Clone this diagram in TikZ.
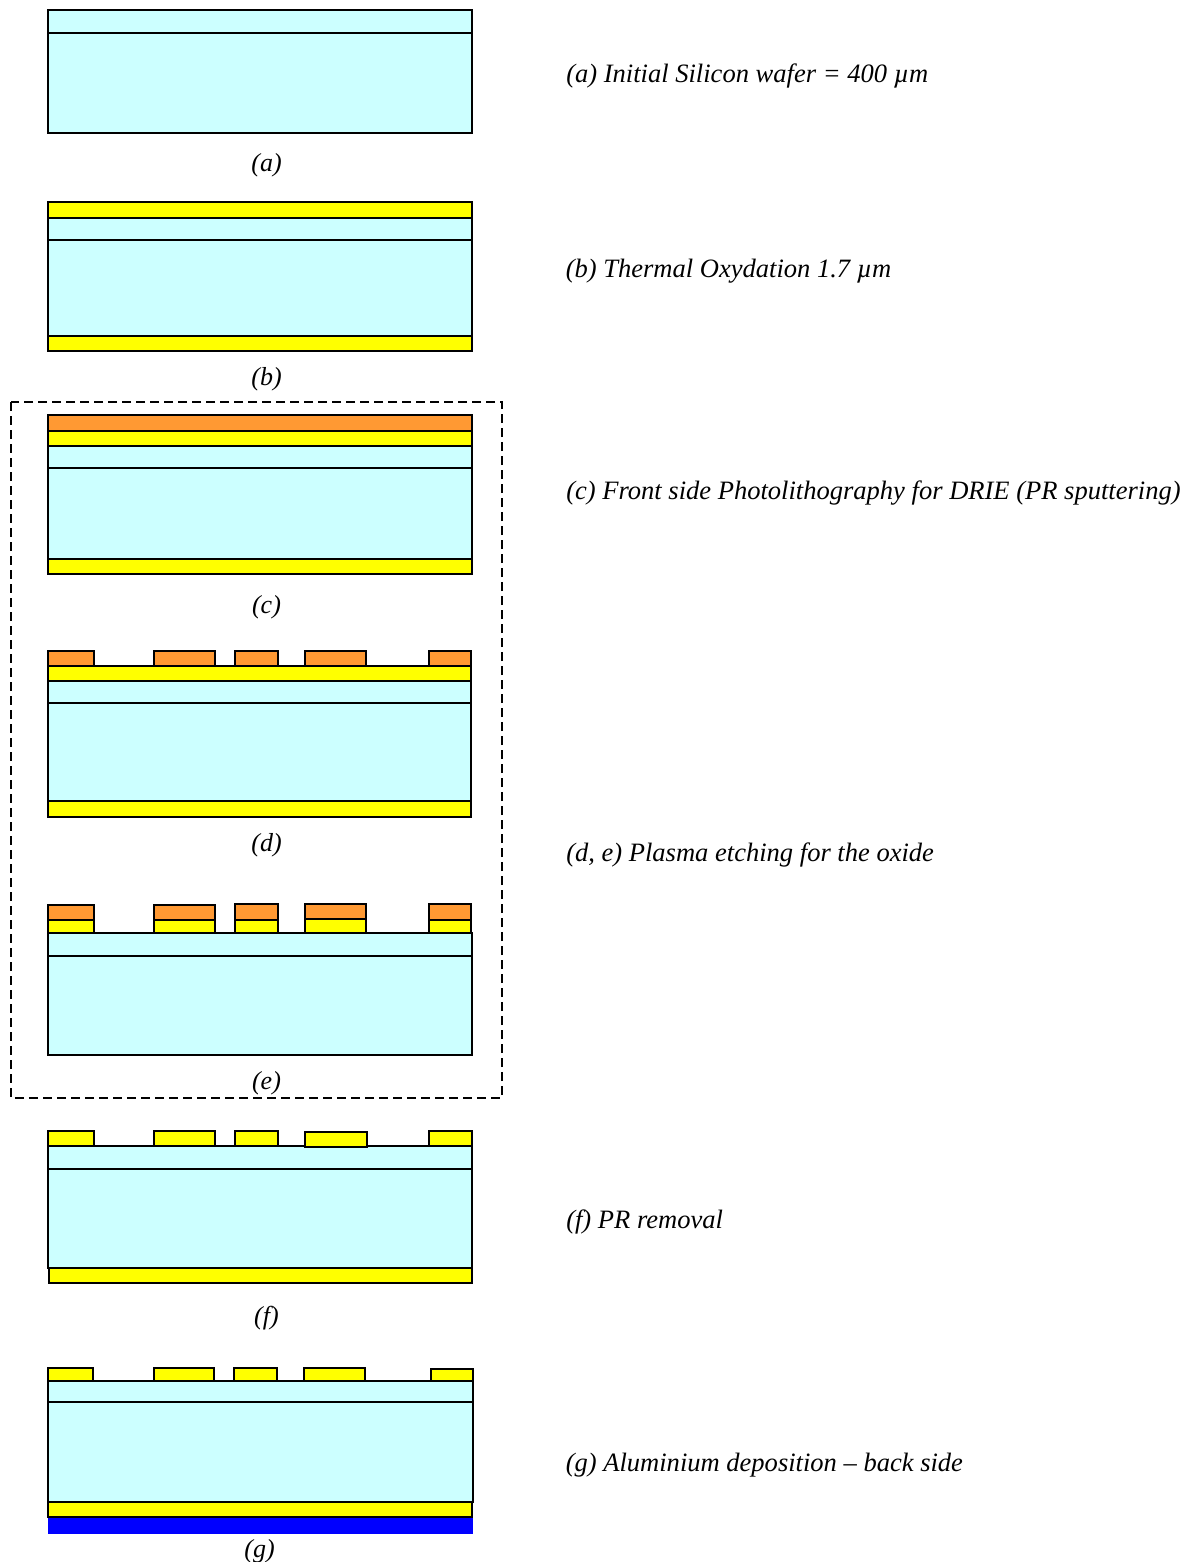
\documentclass[tikz,border=0pt]{standalone}
\usepackage{fontspec}
\setmainfont{Liberation Serif}
\definecolor{si}{RGB}{204,255,255}
\definecolor{ox}{RGB}{255,255,0}
\definecolor{pr}{RGB}{255,153,51}
\definecolor{al}{RGB}{0,0,255}
\tikzset{
  layer/.style={draw=black,line width=1.4pt,line join=miter},
  captxt/.style={font=\fontsize{19.5pt}{22pt}\selectfont\itshape,inner sep=0pt,anchor=base},
  desc/.style={font=\fontsize{19.9pt}{22pt}\selectfont\itshape,inner sep=0pt,anchor=base west},
  frame/.style={draw=black,line width=1.2pt,dash pattern=on 6.5pt off 4pt},
}
\newcommand{\lay}[5]{\path[layer,fill=#5] (#1,#2) rectangle (#3,#4);}
\newcommand{\wafer}[4]{% top, line, bottom, right
  \path[layer,fill=si] (48,#1) rectangle (#4,#3);
  \draw[layer] (48,#2) -- (#4,#2);}
\begin{document}
\begin{tikzpicture}[x=0.75pt,y=-0.75pt]
\useasboundingbox (0,0) rectangle (1192,1562);
% (a)
\wafer{10}{33}{133}{472}
% (b)
\wafer{218}{240}{336}{472}
\lay{48}{202}{472}{218}{ox}
\lay{48}{336}{472}{351}{ox}
% frame
\draw[frame] (11,402) rectangle (502,1098);
% (c)
\wafer{446}{468}{559}{472}
\lay{48}{431}{472}{446}{ox}
\lay{48}{415}{472}{431}{pr}
\lay{48}{559}{472}{574}{ox}
% (d)
\wafer{681}{703}{801}{471}
\lay{48}{666}{471}{681}{ox}
\lay{48}{801}{471}{817}{ox}
\lay{48}{651}{94}{666}{pr}
\lay{154}{651}{215}{666}{pr}
\lay{235}{651}{278}{666}{pr}
\lay{305}{651}{366}{666}{pr}
\lay{429}{651}{471}{666}{pr}
% (e)
\wafer{933}{956}{1055}{472}
\lay{48}{920}{94}{933}{ox}
\lay{154}{920}{215}{933}{ox}
\lay{235}{920}{278}{933}{ox}
\lay{305}{918}{366}{933}{ox}
\lay{429}{920}{471}{933}{ox}
\lay{48}{905}{94}{920}{pr}
\lay{154}{905}{215}{920}{pr}
\lay{235}{904}{278}{920}{pr}
\lay{305}{904}{366}{919}{pr}
\lay{429}{904}{471}{920}{pr}
% (f)
\wafer{1146}{1169}{1268}{472}
\lay{48}{1131}{94}{1146}{ox}
\lay{154}{1131}{215}{1146}{ox}
\lay{235}{1131}{278}{1146}{ox}
\lay{305}{1132}{367}{1147}{ox}
\lay{429}{1131}{472}{1146}{ox}
\lay{49}{1268}{472}{1283}{ox}
% (g)
\fill[al] (48,1517) rectangle (473,1534);
\wafer{1381}{1402}{1502}{473}
\lay{48}{1368}{93}{1381}{ox}
\lay{154}{1368}{214}{1381}{ox}
\lay{234}{1368}{277}{1381}{ox}
\lay{304}{1368}{365}{1381}{ox}
\lay{431}{1369}{473}{1381}{ox}
\lay{48}{1502}{472}{1517}{ox}
% captions
\node[captxt] (capa) at (266.5,172) {(a)};
\node[captxt] (capb) at (266.5,385) {(b)};
\node[captxt] (capc) at (266.5,613) {(c)};
\node[captxt] (capd) at (266.5,851) {(d)};
\node[captxt] (cape) at (266.5,1089) {(e)};
\node[captxt] (capf) at (266.5,1324) {(f)};
\node[captxt] (capg) at (259.5,1557) {(g)};
% descriptions
\node[desc] (da) at (566,83) {(a) Initial Silicon wafer = 400 µm};
\node[desc] (db) at (565.5,277) {(b) Thermal Oxydation 1.7 µm};
\node[desc] (dc) at (566,499) {(c) Front side Photolithography for DRIE (PR sputtering)};
\node[desc] (dd) at (566,861) {(d, e) Plasma etching for the oxide};
\node[desc] (df) at (566,1228) {(f) PR removal};
\node[desc] (dg) at (565.5,1471) {(g) Aluminium deposition – back side};
\end{tikzpicture}
\end{document}
